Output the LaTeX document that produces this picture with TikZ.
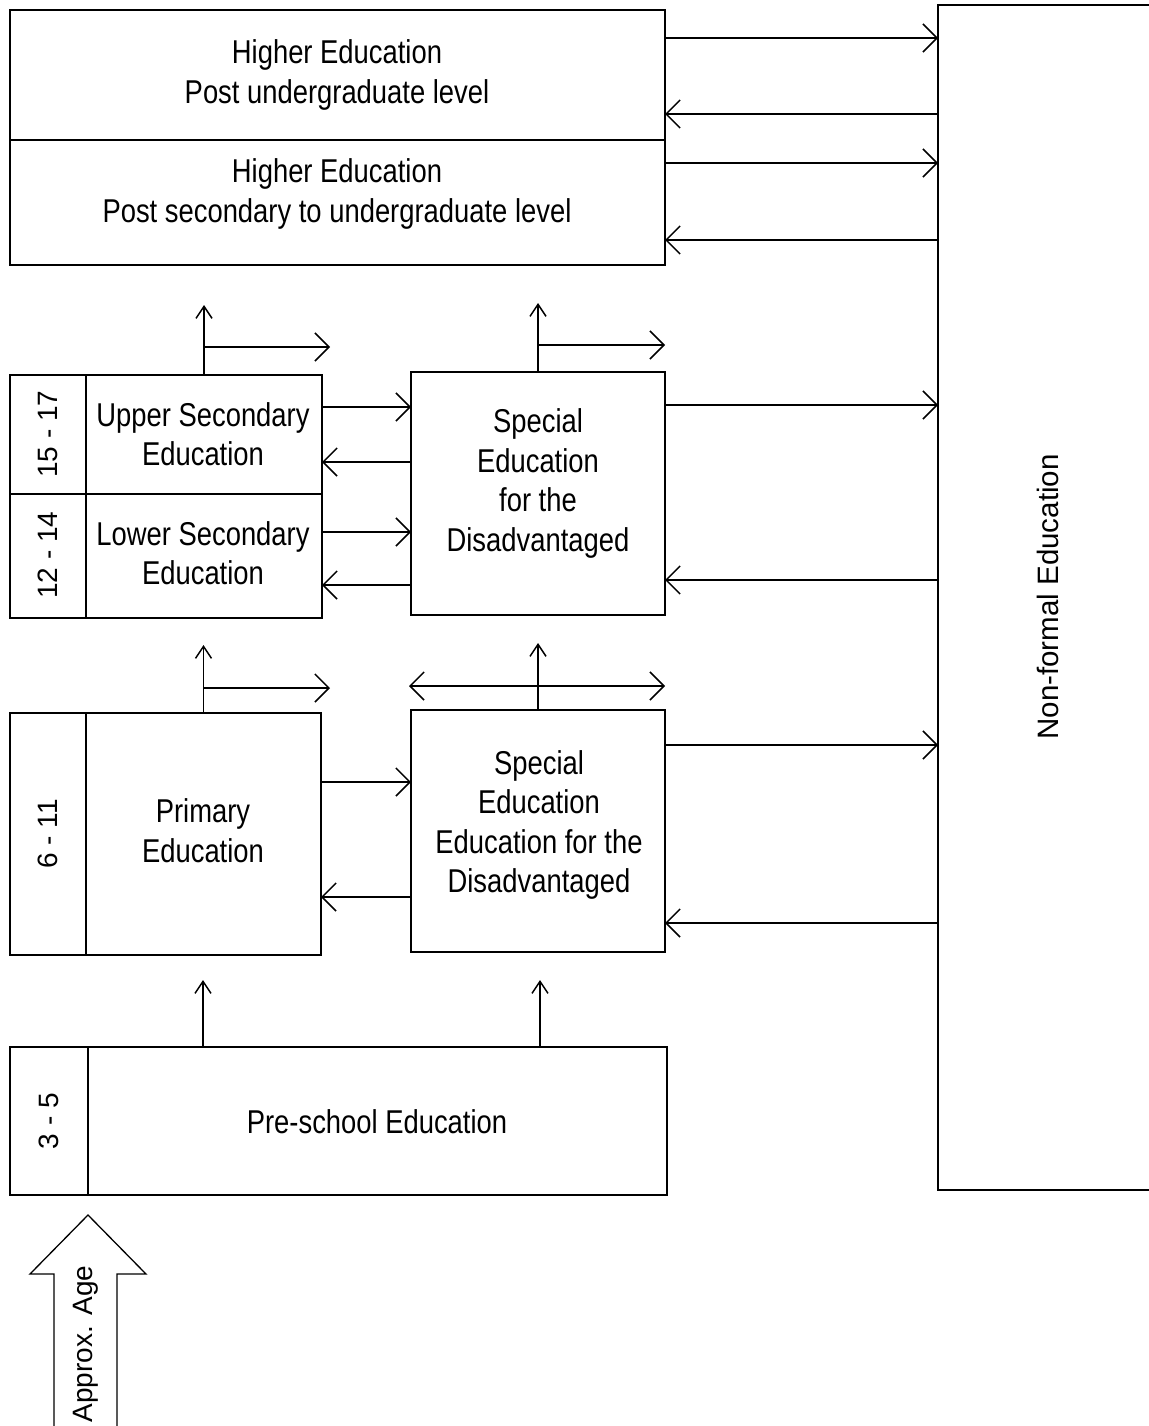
\documentclass[tikz,border=0pt]{standalone}
\usepackage{fontspec}
\setmainfont{Liberation Sans}
\newfontfamily\narrowfont{Liberation Sans}[FakeStretch=0.83]
\usetikzlibrary{arrows.meta,calc}
\begin{document}
\begin{tikzpicture}[x=1pt,y=-1pt,
  box/.style={draw, line width=1.8pt, inner sep=0pt, outer sep=0pt},
  lbl/.style={align=center, font=\narrowfont\fontsize{33}{39.5}\selectfont, inner sep=0pt},
  rlbl/.style={rotate=90, font=\fontsize{28}{32}\selectfont, inner sep=0pt},
  conn/.style={line width=1.3pt},
  htip/.tip={Straight Barb[length=14pt,width=28pt,line width=1.5pt]},
  vtip/.tip={Straight Barb[length=12pt,width=16pt,line width=1.5pt]},
  harr/.style={conn, -htip},
  hdbl/.style={conn, htip-htip},
  varr/.style={conn, -vtip}
]
\fill[white] (0,0) rectangle (1148,1426);
\useasboundingbox (0,0) rectangle (1148,1426);

% Higher education
\node[box, minimum width=655pt, minimum height=130pt] (hpu) at (337.5,75) {};
\node[box, minimum width=655pt, minimum height=125pt] (hps) at (337.5,202.5) {};
\node[lbl] (thpu) at (337,75) {Higher Education\\Post undergraduate level};
\node[lbl] (thps) at (337,194) {Higher Education\\Post secondary to undergraduate level};

% Non-formal
\node[box, minimum width=222pt, minimum height=1185pt] (nf) at (1049,597.5) {};
\node[rlbl, font=\fontsize{29.5}{33}\selectfont] (tnf) at (1048,597) {Non-formal Education};

% Secondary
\node[box, minimum width=76pt, minimum height=119pt] (age15) at (48,434.5) {};
\node[box, minimum width=76pt, minimum height=124pt] (age12) at (48,556) {};
\node[box, minimum width=236pt, minimum height=119pt] (usec) at (204,434.5) {};
\node[box, minimum width=236pt, minimum height=124pt] (lsec) at (204,556) {};
\node[rlbl] (tage15) at (48,434) {15 - 17};
\node[rlbl] (tage12) at (48,555) {12 - 14};
\node[lbl] (tusec) at (203,434) {Upper Secondary\\Education};
\node[lbl] (tlsec) at (203,553) {Lower Secondary\\Education};

\node[box, minimum width=254pt, minimum height=243pt] (sp1) at (538,493.5) {};
\node[lbl] (tsp1) at (538,483.5) {Special\\Education\\for the\\Disadvantaged};

% Primary
\node[box, minimum width=76pt, minimum height=242pt] (age6) at (48,834) {};
\node[box, minimum width=235pt, minimum height=242pt] (prim) at (203.5,834) {};
\node[rlbl] (tage6) at (48,834) {6 - 11};
\node[lbl] (tprim) at (203,830.5) {Primary\\Education};

\node[box, minimum width=254pt, minimum height=242pt] (sp2) at (538,831) {};
\node[lbl] (tsp2) at (539,825) {Special\\Education\\Education for the\\Disadvantaged};

% Pre-school
\node[box, minimum width=78pt, minimum height=148pt] (age3) at (49,1121) {};
\node[box, minimum width=579pt, minimum height=148pt] (pre) at (377.5,1121) {};
\node[rlbl] (tage3) at (49,1121) {3 - 5};
\node[lbl] (tpre) at (377,1122) {Pre-school Education};

% Approx. Age block arrow
\draw[line width=1.3pt] (54,1430) -- (54,1274) -- (30,1274) -- (88,1215) -- (146,1274) -- (117,1274) -- (117,1430);
\node[rlbl] (tage) at (86,1344) {Approx. Age};

% Higher <-> Non-formal
\draw[harr] (hpu.east |- 0,38) -- (nf.west |- 0,38);
\draw[harr] (nf.west |- 0,114) -- (hpu.east |- 0,114);
\draw[harr] (hps.east |- 0,163) -- (nf.west |- 0,163);
\draw[harr] (nf.west |- 0,240) -- (hps.east |- 0,240);

% Special <-> Non-formal
\draw[harr] (sp1.east |- 0,405) -- (nf.west |- 0,405);
\draw[harr] (nf.west |- 0,580) -- (sp1.east |- 0,580);
\draw[harr] (sp2.east |- 0,745) -- (nf.west |- 0,745);
\draw[harr] (nf.west |- 0,923) -- (sp2.east |- 0,923);

% Secondary <-> Special
\draw[harr] (usec.east |- 0,407) -- (sp1.west |- 0,407);
\draw[harr] (sp1.west |- 0,462) -- (usec.east |- 0,462);
\draw[harr] (lsec.east |- 0,532) -- (sp1.west |- 0,532);
\draw[harr] (sp1.west |- 0,585) -- (lsec.east |- 0,585);

% Primary <-> Special
\draw[harr] (prim.east |- 0,782) -- (sp2.west |- 0,782);
\draw[harr] (sp2.west |- 0,897) -- (prim.east |- 0,897);

% Upward arrows with branches
\coordinate (up1) at (204,305);
\coordinate (rt1) at (330,347);
\draw[varr] (usec.north) -- (up1);
\draw[harr] (usec.north |- rt1) -- (rt1);

\coordinate (up2) at (538,303);
\coordinate (rt2) at (665,345);
\draw[varr] (sp1.north) -- (up2);
\draw[harr] (sp1.north |- rt2) -- (rt2);

\coordinate (up3) at (203.5,645);
\coordinate (rt3) at (330,688);
\draw[varr] (prim.north) -- (up3);
\draw[harr] (prim.north |- rt3) -- (rt3);

\coordinate (up4) at (538,643);
\coordinate (lt4) at (409,686);
\coordinate (rt4) at (665,686);
\draw[varr] (sp2.north) -- (up4);
\draw[hdbl] (lt4) -- (rt4);

\coordinate (up5) at (203,980);
\coordinate (up6) at (540,980);
\draw[varr] (pre.north -| up5) -- (up5);
\draw[varr] (pre.north -| up6) -- (up6);
\end{tikzpicture}
\end{document}
